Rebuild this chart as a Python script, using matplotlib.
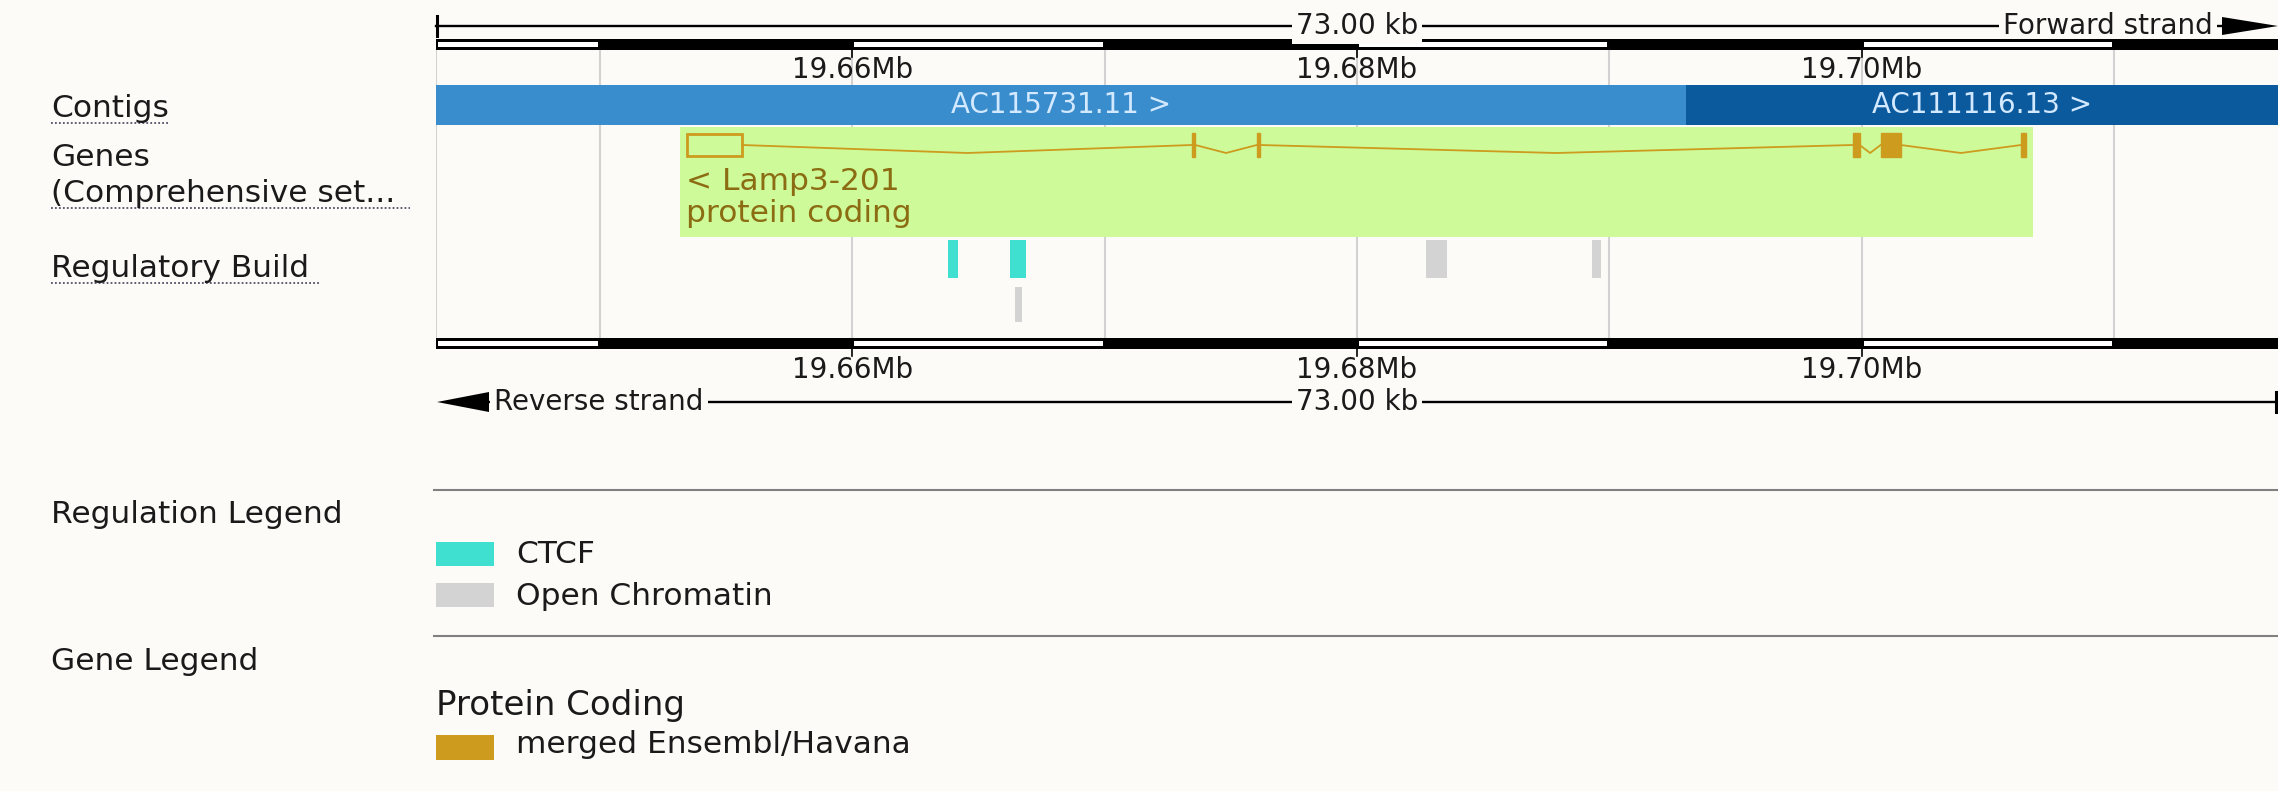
import matplotlib
matplotlib.use('Agg')
import matplotlib.pyplot as plt
from matplotlib.patches import Rectangle, Polygon

W, H = 2278, 791
BG = '#fcfbf7'
plt.rcParams['font.family'] = ['DejaVu Sans']

# ---------------- data ----------------
view_start, view_end = 19.6435, 19.7165          # Mb
view_len_label = '73.00 kb'
grid_ticks = [19.65, 19.66, 19.67, 19.68, 19.69, 19.70, 19.71]
label_ticks = [19.66, 19.68, 19.70]
label_texts = ['19.66Mb', '19.68Mb', '19.70Mb']

contig_names = ['AC115731.11', 'AC111116.13']
contig_starts = [19.6435, 19.69302]
contig_ends = [19.69302, 19.7165]
contig_colors = ['#3a8dcd', '#0b5a9d']

gene_name = 'Lamp3-201'
gene_biotype = 'protein coding'
exon_starts = [19.65345, 19.67347, 19.67603, 19.69964, 19.70075, 19.70632]
exon_ends = [19.65564, 19.67359, 19.67615, 19.69992, 19.70155, 19.70651]
exon_coding = [False, True, True, True, True, True]

reg_starts = [19.66378, 19.66624, 19.66644, 19.68272, 19.68932]
reg_ends = [19.66418, 19.66688, 19.66672, 19.68356, 19.68967]
reg_types = ['CTCF', 'CTCF', 'Open Chromatin', 'Open Chromatin', 'Open Chromatin']
reg_rows = [0, 0, 1, 0, 0]

reg_legend = ['CTCF', 'Open Chromatin']
reg_colors = {'CTCF': '#40e0d0', 'Open Chromatin': '#d3d3d3'}
gene_legend_group = 'Protein Coding'
gene_legend = ['merged Ensembl/Havana']
gene_color = '#cd9b1d'

track_labels = ['Contigs', 'Genes', '(Comprehensive set...', 'Regulatory Build']
section_labels = ['Regulation Legend', 'Gene Legend']

# ---------------- figure ----------------
fig = plt.figure(figsize=(W / 100, H / 100), dpi=100, facecolor=BG)
ov = fig.add_axes([0, 0, 1, 1])
ov.set_xlim(0, W); ov.set_ylim(H, 0); ov.axis('off'); ov.patch.set_alpha(0)

x0 = 436
tr = fig.add_axes([x0 / W, 0, 1 - x0 / W, 1])
tr.set_xlim(view_start, view_end); tr.set_ylim(H, 0); tr.axis('off'); tr.patch.set_alpha(0)

TXT = '#1a1a1a'
FS = 22.5
RFS = 20

# gridlines
for g in [view_start] + grid_ticks:
    tr.plot([g, g], [50, 339], color='#d2d2d2', lw=1.5, zorder=0, solid_capstyle='butt')

# scale bars
bounds = [view_start] + grid_ticks + [view_end]
inset = 0.00008
for (yt, yb) in [(39, 50), (338, 349)]:
    tr.add_patch(Rectangle((view_start, yt), view_end - view_start, yb - yt,
                           facecolor='black', edgecolor='none', zorder=3))
    for i in range(len(bounds) - 1):
        if i % 2 == 0:
            a = bounds[i] + inset
            b = bounds[i + 1] - (inset if i + 1 < len(bounds) - 1 else 0)
            tr.add_patch(Rectangle((a, yt + 3), b - a, (yb - yt) - 6,
                                   facecolor='white', edgecolor='none', zorder=4))
for t, lab in zip(label_ticks, label_texts):
    tr.plot([t, t], [50, 57], color='black', lw=1.2, zorder=3)
    tr.plot([t, t], [349, 356], color='black', lw=1.2, zorder=3)
    tr.text(t, 78, lab, ha='center', va='baseline', fontsize=RFS, color=TXT, zorder=5)
    tr.text(t, 378, lab, ha='center', va='baseline', fontsize=RFS, color=TXT, zorder=5)

# top ruler
ov.plot([436, 2224], [26, 26], color='black', lw=1.7, zorder=2)
ov.plot([437, 437], [16, 36], color='black', lw=2.2, zorder=2)
mid = (view_start + view_end) / 2
tr.text(mid, 26, view_len_label, ha='center', va='center', fontsize=RFS, color=TXT, zorder=5,
        bbox=dict(facecolor=BG, edgecolor='none', pad=3))
ov.text(2213, 26, 'Forward strand', ha='right', va='center', fontsize=RFS, color=TXT, zorder=5,
        bbox=dict(facecolor=BG, edgecolor='none', pad=3))
ov.add_patch(Polygon([(2222, 17), (2278, 26), (2222, 35)], closed=True, facecolor='black',
                     edgecolor='none', zorder=6))

# bottom ruler
ov.plot([486, 2277], [402, 402], color='black', lw=1.7, zorder=2)
ov.plot([2276, 2276], [392, 412], color='black', lw=2.2, zorder=2)
tr.text(mid, 402, view_len_label, ha='center', va='center', fontsize=RFS, color=TXT, zorder=5,
        bbox=dict(facecolor=BG, edgecolor='none', pad=3))
ov.text(494, 402, 'Reverse strand', ha='left', va='center', fontsize=RFS, color=TXT, zorder=5,
        bbox=dict(facecolor=BG, edgecolor='none', pad=3))
ov.add_patch(Polygon([(489, 392), (437, 402), (489, 412)], closed=True, facecolor='black',
                     edgecolor='none', zorder=6))

# contigs
for name, s, e, c in zip(contig_names, contig_starts, contig_ends, contig_colors):
    tr.add_patch(Rectangle((s, 85), e - s, 40, facecolor=c, edgecolor='none', zorder=2))
    tr.text((s + e) / 2, 105, name + ' >', ha='center', va='center', fontsize=RFS,
            color='#d2e9ff', zorder=5)

# gene
pad = 0.00027
gs, ge = min(exon_starts) - pad, max(exon_ends) + pad
tr.add_patch(Rectangle((gs, 127), ge - gs, 110, facecolor='#cffa99', edgecolor='none', zorder=1))
for i in range(len(exon_starts) - 1):
    a, b = exon_ends[i], exon_starts[i + 1]
    tr.plot([a, (a + b) / 2, b], [145, 153, 145], color=gene_color, lw=1.3, zorder=3)
for s, e, coding in zip(exon_starts, exon_ends, exon_coding):
    if coding:
        tr.add_patch(Rectangle((s, 133), e - s, 24, facecolor=gene_color, edgecolor=gene_color,
                               lw=1.0, zorder=4))
    else:
        tr.add_patch(Rectangle((s, 134), e - s, 22, facecolor='none', edgecolor=gene_color,
                               lw=2.0, zorder=4))
tr.text(exon_starts[0] - 0.00005, 182, '< ' + gene_name, ha='left', va='center', fontsize=FS,
        color='#8b6c12', zorder=5)
tr.text(exon_starts[0] - 0.00005, 213, gene_biotype, ha='left', va='center', fontsize=FS,
        color='#8b6c12', zorder=5)

# regulatory build
row_y = {0: (240, 38), 1: (287, 35)}
for s, e, t, r in zip(reg_starts, reg_ends, reg_types, reg_rows):
    y, h = row_y[r]
    tr.add_patch(Rectangle((s, y), e - s, h, facecolor=reg_colors[t], edgecolor='none', zorder=2))

# left track labels
lab_y = [117, 166, 202, 277]
for lab, y in zip(track_labels, lab_y):
    ov.text(51, y, lab, ha='left', va='baseline', fontsize=FS, color=TXT)
for (y, xe) in [(123, 170), (208, 410), (283, 320)]:
    ov.plot([51, xe], [y, y], color='#50506a', lw=1.3, ls=(0, (1, 1.2)))

# legends
for y in [490, 636]:
    ov.plot([434, W], [y, y], color='#808080', lw=1.5)
ov.text(51, 523, section_labels[0], ha='left', va='baseline', fontsize=FS, color=TXT)
ov.text(51, 670, section_labels[1], ha='left', va='baseline', fontsize=FS, color=TXT)
for lab, (ys, yb) in zip(reg_legend, [(542, 563), (583, 605)]):
    ov.add_patch(Rectangle((436, ys), 58, 24, facecolor=reg_colors[lab], edgecolor='none'))
    ov.text(516, yb, lab, ha='left', va='baseline', fontsize=FS, color=TXT)
ov.text(436, 715, gene_legend_group, ha='left', va='baseline', fontsize=24.5, color=TXT)
ov.add_patch(Rectangle((436, 735), 58, 25, facecolor=gene_color, edgecolor='none'))
ov.text(516, 753, gene_legend[0], ha='left', va='baseline', fontsize=FS, color=TXT)

fig.savefig('out.png', dpi=100, facecolor=BG)
